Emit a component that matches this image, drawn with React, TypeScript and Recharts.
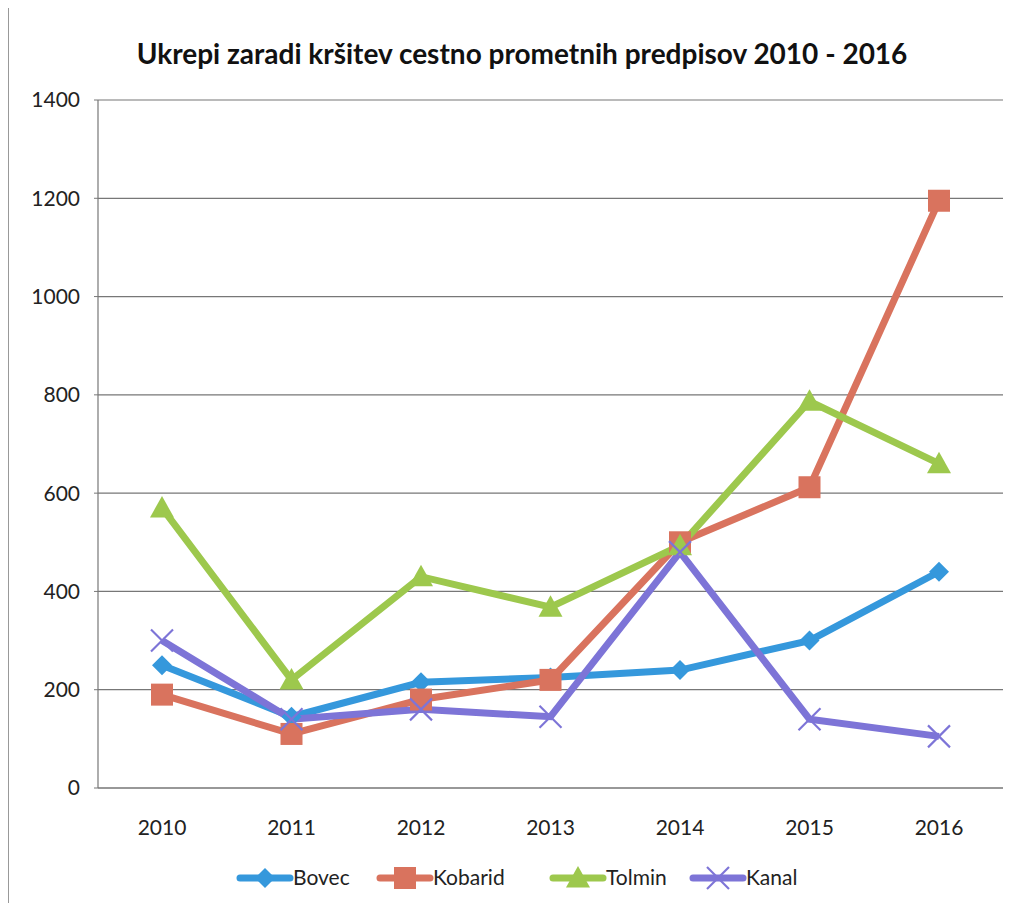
import React from "react";
import { LineChart, Line, XAxis, YAxis, CartesianGrid } from "recharts";

const years = ["2010", "2011", "2012", "2013", "2014", "2015", "2016"];
const bovec = [250, 145, 215, 225, 240, 300, 440];
const kobarid = [190, 110, 180, 220, 500, 612, 1195];
const tolmin = [570, 220, 430, 368, 493, 787, 660];
const kanal = [300, 140, 160, 145, 480, 140, 105];
const yTicks = [0, 200, 400, 600, 800, 1000, 1200, 1400];

const seriesNames = ["Bovec", "Kobarid", "Tolmin", "Kanal"];
const colors = ["#3598dc", "#d9735e", "#9dc84d", "#7d74d7"];
const markers = ["diamond", "square", "triangle", "x"];

const data = years.map((y, i) => ({
  year: y,
  Bovec: bovec[i],
  Kobarid: kobarid[i],
  Tolmin: tolmin[i],
  Kanal: kanal[i],
}));

const FONT = "Lato, 'Open Sans', sans-serif";

function Marker({ kind, cx, cy, color }: { kind: string; cx: number; cy: number; color: string }) {
  if (cx == null || cy == null) return null;
  if (kind === "diamond") {
    const s = 10;
    return <polygon points={`${cx},${cy - s} ${cx + s},${cy} ${cx},${cy + s} ${cx - s},${cy}`} fill={color} />;
  }
  if (kind === "square") {
    const s = 11;
    return <rect x={cx - s} y={cy - s} width={2 * s} height={2 * s} fill={color} />;
  }
  if (kind === "triangle") {
    const s = 12;
    return <polygon points={`${cx},${cy - s} ${cx + s},${cy + s * 0.8} ${cx - s},${cy + s * 0.8}`} fill={color} />;
  }
  const s = 11;
  return (
    <g stroke={color} strokeWidth={2.2}>
      <line x1={cx - s} y1={cy - s} x2={cx + s} y2={cy + s} />
      <line x1={cx - s} y1={cy + s} x2={cx + s} y2={cy - s} />
    </g>
  );
}

function makeDot(kind: string, color: string) {
  return (props: any) => <Marker key={`${kind}-${props.index}`} kind={kind} cx={props.cx} cy={props.cy} color={color} />;
}

function LegendContent() {
  const widths = [140, 173, 140, 130];
  let x = 0;
  return (
    <svg width={600} height={30} style={{ display: "block", overflow: "visible" }}>
      {seriesNames.map((n, i) => {
        const x0 = x;
        x += widths[i];
        return (
          <g key={n}>
            <line x1={x0 + 3} y1={15} x2={x0 + 53} y2={15} stroke={colors[i]} strokeWidth={7} strokeLinecap="round" />
            <Marker kind={markers[i]} cx={x0 + 28} cy={15} color={colors[i]} />
            <text x={x0 + 56} y={22} fontSize={21} fontFamily={FONT} fill="#222">
              {n}
            </text>
          </g>
        );
      })}
    </svg>
  );
}

export default function App() {
  return (
    <div style={{ position: "relative", width: 1003, height: 895, fontFamily: FONT }}>
      <div
        style={{
          position: "absolute",
          left: -1,
          top: 0,
          width: 1010,
          height: 901,
          borderLeft: "2px solid #999",
          borderBottom: "2px solid #999",
          boxSizing: "border-box",
        }}
      />
      <div
        style={{
          position: "absolute",
          top: 28,
          left: 0,
          width: 1028,
          textAlign: "center",
          fontSize: 28,
          fontWeight: 700,
          color: "#111",
        }}
      >
        Ukrepi zaradi kršitev cestno prometnih predpisov 2010 - 2016
      </div>
      <LineChart
        width={1003}
        height={895}
        data={data}
        margin={{ top: 92, right: 8, bottom: 85, left: 0 }}
      >
        <CartesianGrid vertical={false} stroke="#777" strokeWidth={1.2} />
        <XAxis
          dataKey="year"
          tickLine={false}
          padding={{ left: 64, right: 64 }}
          axisLine={{ stroke: "#777", strokeWidth: 1.2 }}
          tickMargin={26}
          tick={{ fontSize: 21, fill: "#222", fontFamily: FONT }}
        />
        <YAxis
          domain={[0, 1400]}
          ticks={yTicks}
          width={90}
          tickSize={4}
          tickMargin={14}
          tickLine={{ stroke: "#777" }}
          axisLine={{ stroke: "#777", strokeWidth: 1.2 }}
          tick={{ fontSize: 21, fill: "#222", fontFamily: FONT }}
        />
        {seriesNames.map((n, i) => (
          <Line
            key={n}
            dataKey={n}
            type="linear"
            stroke={colors[i]}
            strokeWidth={7}
            dot={makeDot(markers[i], colors[i])}
            activeDot={false}
            isAnimationActive={false}
          />
        ))}
      </LineChart>
      <div style={{ position: "absolute", top: 855, left: 229, width: 600 }}>
        <LegendContent />
      </div>
    </div>
  );
}
